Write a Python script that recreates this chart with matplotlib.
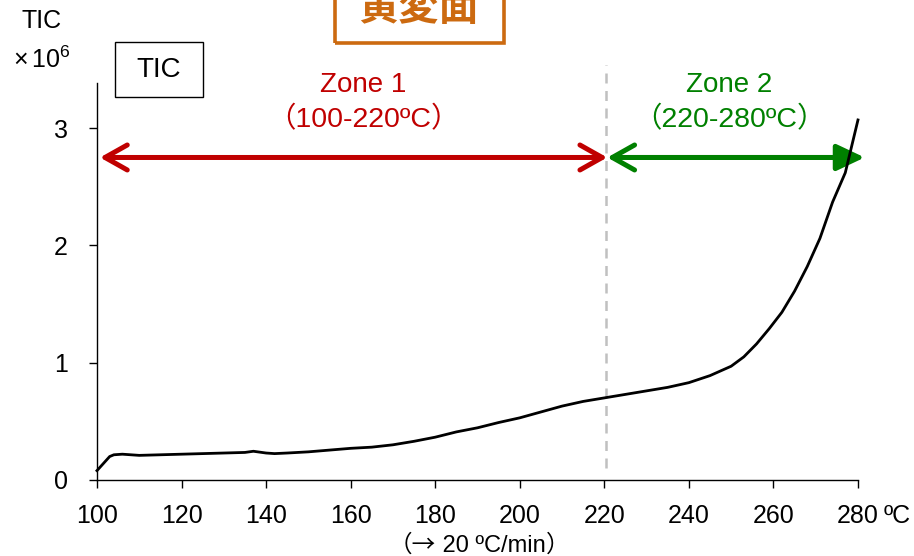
import matplotlib
matplotlib.use("Agg")
import matplotlib.pyplot as plt
from matplotlib.patches import Rectangle
from matplotlib.offsetbox import TextArea, HPacker, AnchoredOffsetbox

plt.rcParams['font.family'] = ['Liberation Sans', 'Noto Sans CJK JP', 'DejaVu Sans']
plt.rcParams['mathtext.fontset'] = 'custom'
plt.rcParams['mathtext.rm'] = 'Liberation Sans'

# Temperature (ºC) and total ion current (×10^6)
temperature = [100, 101.5, 103, 104, 106, 108, 110, 115, 120, 125, 130, 135, 137,
               140, 142, 145, 150, 155, 160, 165, 170, 175, 180, 185, 190, 195,
               200, 205, 210, 215, 220, 225, 230, 235, 240, 245, 250, 253, 256,
               259, 262, 265, 268, 271, 274, 277, 280]
tic = [0.08, 0.14, 0.20, 0.215, 0.22, 0.215, 0.21, 0.215, 0.22, 0.225, 0.23, 0.235,
       0.245, 0.23, 0.225, 0.23, 0.24, 0.255, 0.27, 0.28, 0.30, 0.33, 0.365, 0.41,
       0.445, 0.49, 0.53, 0.58, 0.63, 0.67, 0.70, 0.73, 0.76, 0.79, 0.83, 0.89,
       0.97, 1.05, 1.16, 1.29, 1.43, 1.61, 1.82, 2.06, 2.37, 2.62, 3.07]

x_ticks = [100, 120, 140, 160, 180, 200, 220, 240, 260, 280]
y_ticks = [0, 1, 2, 3]

zone_bounds = [100.7, 220.7, 281.6]
zone_names = ["Zone 1", "Zone 2"]
zone_ranges = ["（100-220ºC）", "（220-280ºC）"]
zone_colors = ["#C00000", "#008000"]

fig = plt.figure(figsize=(9.14, 5.56), dpi=100)
ax = fig.add_axes([0.1061, 0.1367, 0.8326, 0.714])

ax.plot(temperature, tic, color="black", lw=2.0, zorder=5, clip_on=False)

ax.set_xlim(100, 280)
ax.set_ylim(0, 3.385)
ax.set_xticks(x_ticks)
ax.set_yticks(y_ticks)
ax.tick_params(axis='both', direction='out', length=6, width=1.0, labelsize=18,
               colors='black')
ax.tick_params(axis='x', pad=11)
ax.tick_params(axis='y', pad=15)
for s in ("top", "right"):
    ax.spines[s].set_visible(False)
for s in ("left", "bottom"):
    ax.spines[s].set_linewidth(1.0)

# boundary between the two zones
ax.plot([220.5, 220.5], [0.1, 3.54], color="#C0C0C0", lw=1.8,
        dashes=(4, 3), clip_on=False, zorder=1)

# zone arrows
y_arrow = 2.75
ax.annotate("", xy=(zone_bounds[0], y_arrow), xytext=(zone_bounds[1], y_arrow),
            arrowprops=dict(arrowstyle="<->,head_length=0.8,head_width=0.45",
                            color=zone_colors[0], lw=3.6, shrinkA=0, shrinkB=0,
                            mutation_scale=20, capstyle='round', joinstyle='round'),
            annotation_clip=False, zorder=3)
ax.annotate("", xy=(zone_bounds[1], y_arrow), xytext=(zone_bounds[2] - 3, y_arrow),
            arrowprops=dict(arrowstyle="->,head_length=0.8,head_width=0.45",
                            color=zone_colors[1], lw=3.6, shrinkA=0, shrinkB=0,
                            mutation_scale=20, capstyle='round', joinstyle='round'),
            annotation_clip=False, zorder=3)
ax.annotate("", xy=(zone_bounds[2], y_arrow), xytext=(zone_bounds[1] + 5, y_arrow),
            arrowprops=dict(arrowstyle="-|>,head_length=0.85,head_width=0.4",
                            color=zone_colors[1], lw=3.6, shrinkA=0, shrinkB=0,
                            mutation_scale=20),
            annotation_clip=False, zorder=3)

zone_centers = [163, 249.5]
for cx, name, rng, col in zip(zone_centers, zone_names, zone_ranges, zone_colors):
    ax.text(cx, 3.37, name, color=col, fontsize=20, ha='center', va='center')
    ax.text(cx, 3.07, rng, color=col, fontsize=20.5, ha='center', va='center')

# axis annotations
fig.text(42 / 914, 1 - 21 / 556, "TIC", fontsize=18, ha='center', va='center')
fig.text(42 / 914, 1 - 60 / 556, r"$\times\,\mathregular{10^6}$", fontsize=18,
         ha='center', va='center')
fig.text(897 / 914, 1 - 516 / 556, "ºC", fontsize=18, ha='center', va='center')

# heating rate note (CJK font for the full-width brackets and arrow)
cjk = dict(fontsize=17, family=['Noto Sans CJK JP'])
latin = dict(fontsize=17, family=['Liberation Sans'])
rate = HPacker(children=[TextArea("（→", textprops=cjk),
                         TextArea(" 20 ºC/min", textprops=latin),
                         TextArea("）", textprops=cjk)],
               align='baseline', pad=0, sep=0)
fig.add_artist(AnchoredOffsetbox(loc='center', child=rate, frameon=False, pad=0,
                                 borderpad=0,
                                 bbox_to_anchor=(479 / 914, 1 - 545 / 556),
                                 bbox_transform=fig.transFigure))

# legend-style label box
fig.patches.append(Rectangle((115 / 914, 1 - 97 / 556), 88 / 914, 55 / 556,
                             transform=fig.transFigure, fill=False,
                             edgecolor='black', lw=1.0))
fig.text(159 / 914, 1 - 70 / 556, "TIC", fontsize=20, ha='center', va='center')

# sample surface title box
orange = "#CC6A10"
fig.patches.append(Rectangle((335 / 914, 1 - 43 / 556), 169 / 914, 70 / 556,
                             transform=fig.transFigure, fill=False,
                             edgecolor=orange, lw=2.6))
fig.text(419 / 914, 1 - 9 / 556, "黄変面", fontsize=29, color=orange,
         ha='center', va='center', family=['Noto Sans CJK JP'], weight='bold')

fig.savefig("out.png", dpi=100)
